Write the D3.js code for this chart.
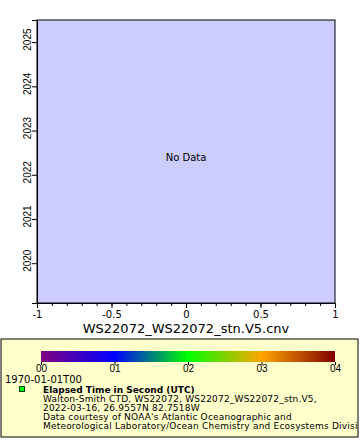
<!DOCTYPE html>
<html><head><meta charset="utf-8">
<script src="https://cdn.jsdelivr.net/npm/d3@7"></script>
<style>body{margin:0;background:#fff}svg{display:block;font-family:"DejaVu Sans",sans-serif}</style>
</head><body>
<svg id="c" width="360" height="440"></svg>
<script>
const xTicks = [-1, -0.5, 0, 0.5, 1];
const xTickLabels = ["-1", "-0.5", "0", "0.5", "1"];
const yTicks = [2020, 2021, 2022, 2023, 2024, 2025];
const colorTicks = [0, 1, 2, 3, 4];
const colorTickLabels = ["00", "01", "02", "03", "04"];
const paletteStops = ["#800080", "#0000ff", "#00ff00", "#ffa500", "#800000"];
const legendLines = [
  "Walton-Smith CTD, WS22072, WS22072_WS22072_stn.V5,",
  "2022-03-16, 26.9557N 82.7518W",
  "Data courtesy of NOAA's Atlantic Oceanographic and",
  "Meteorological Laboratory/Ocean Chemistry and Ecosystems Division"
];
const xTitle = "WS22072_WS22072_stn.V5.cnv";
const legendTitle = "Elapsed Time in Second (UTC)";
const timeBase = "1970-01-01T00";

const svg = d3.select("#c");
const L = 37, R = 335, T = 20, B = 303;
const x = d3.scaleLinear().domain([-1, 1]).range([L, R]);
const y = d3.scaleLinear().domain([2019.1, 2025.5]).range([B, T]);

svg.append("rect").attr("x", L).attr("y", T).attr("width", R - L).attr("height", B - T)
  .attr("fill", "#ccccff").attr("stroke", "#000").attr("stroke-width", 1);

// x axis
const xa = svg.append("g").attr("transform", `translate(0,${B})`)
  .call(d3.axisBottom(x).tickValues(xTicks).tickFormat((d, i) => xTickLabels[i]).tickSize(5).tickPadding(3));
xa.select(".domain").attr("stroke", "#000");
xa.selectAll("text").attr("font-size", 10).attr("fill", "#000").attr("font-family", "DejaVu Sans");
svg.append("g").attr("transform", `translate(0,${B})`)
  .call(d3.axisBottom(x).ticks(20).tickSize(3).tickFormat(""))
  .call(g => g.select(".domain").remove());

svg.append("text").attr("x", (L + R) / 2).attr("y", 333).attr("text-anchor", "middle")
  .attr("font-size", 13).text(xTitle);

// y axis
const ya = svg.append("g").attr("transform", `translate(${L},0)`)
  .call(d3.axisLeft(y).tickValues(yTicks).tickFormat(d3.format("d")).tickSize(5));
ya.selectAll("text").remove();
ya.selectAll(".tick").append("text").attr("transform", "translate(-6,-3) rotate(-90)")
  .attr("text-anchor", "middle").attr("dy", "0").attr("fill", "#000")
  .attr("font-size", 10).text(d => d);

svg.append("text").attr("x", (L + R) / 2).attr("y", 161).attr("text-anchor", "middle")
  .attr("font-size", 10).text("No Data");

// legend
const lg = svg.append("g");
svg.append("clipPath").attr("id", "lclip").append("rect").attr("x", 1).attr("y", 339).attr("width", 357).attr("height", 98);
lg.append("rect").attr("x", 1).attr("y", 339).attr("width", 357).attr("height", 98)
  .attr("fill", "#ffffcc").attr("stroke", "#000").attr("stroke-width", 1);
const cx = d3.scaleLinear().domain([0, 4]).range([41, 335]);
const grad = svg.append("defs").append("linearGradient").attr("id", "pal");
paletteStops.forEach((c, i) => grad.append("stop").attr("offset", i / (paletteStops.length - 1)).attr("stop-color", c));
lg.append("rect").attr("x", cx(0)).attr("y", 351).attr("width", cx(4) - cx(0)).attr("height", 11).attr("fill", "url(#pal)");
const ca = lg.append("g").attr("transform", "translate(0,362)")
  .call(d3.axisBottom(cx).tickValues(colorTicks).tickFormat((d, i) => colorTickLabels[i]).tickSize(3).tickPadding(0));
ca.select(".domain").remove();
ca.selectAll("text").attr("font-size", 10).attr("fill", "#000");
lg.append("text").attr("x", 5).attr("y", 383).attr("font-size", 10).text(timeBase);
lg.append("rect").attr("x", 19.5).attr("y", 386.5).attr("width", 5).attr("height", 5)
  .attr("fill", "#00ff00").attr("stroke", "#004000");
const tg = lg.append("g").attr("clip-path", "url(#lclip)");
tg.append("text").attr("x", 43).attr("y", 393).attr("font-size", 9).attr("font-weight", "bold").text(legendTitle);
legendLines.forEach((t, i) => tg.append("text").attr("x", 43).attr("y", 402 + i * 9)
  .attr("font-size", 9).attr("letter-spacing", 0.2).text(t));
</script>
</body></html>
